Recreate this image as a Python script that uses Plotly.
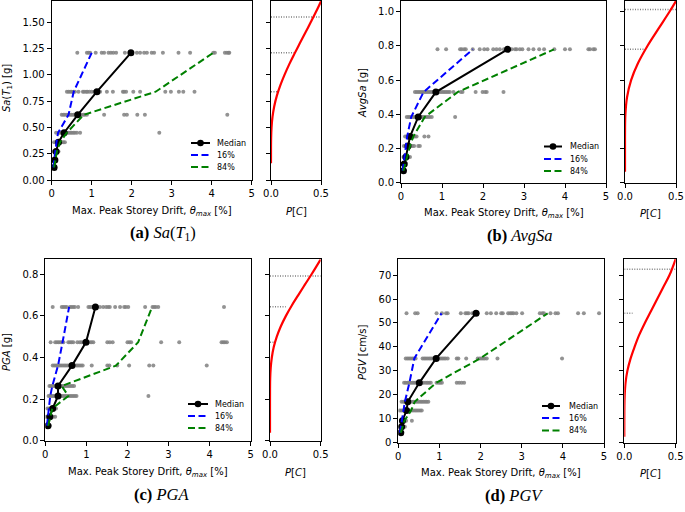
import plotly.graph_objects as go

W, H = 685, 512

# ---- (a) Sa(T1) ----
SA_LEVELS = [0.12, 0.19, 0.27, 0.36, 0.45, 0.62, 0.84, 1.21]
SA_MEDIAN = [0.06, 0.08, 0.11, 0.17, 0.31, 0.65, 1.13, 1.98]
SA_P16 = [0.04, 0.06, 0.09, 0.12, 0.16, 0.42, 0.55, 1.0]
SA_P84 = [0.06, 0.09, 0.13, 0.21, 0.38, 0.8, 2.6, 4.04]
SA_CLOUD = [
    [0.02, 0.04, 0.07],
    [0.03, 0.05, 0.08, 0.1],
    [0.04, 0.07, 0.09, 0.13, 0.17],
    [0.06, 0.1, 0.13, 0.15, 0.18, 0.21, 0.25, 0.29, 0.33],
    [0.11, 0.17, 0.21, 0.25, 0.29, 0.33, 0.38, 0.42, 0.46, 0.5, 0.54, 0.58, 0.63, 0.71, 2.69],
    [0.25, 0.29, 0.33, 0.38, 0.42, 0.46, 0.5, 0.54, 0.58, 0.63, 0.67, 0.71, 0.75, 0.79, 0.83,
     0.88, 1.31, 1.81, 1.88, 2.14, 2.33, 4.39],
    [0.38, 0.42, 0.46, 0.5, 0.54, 0.58, 0.67, 0.78, 0.81, 0.86, 0.89, 0.94, 1.0, 1.06, 1.11,
     1.17, 1.21, 1.38, 1.53, 1.78, 1.81, 1.86, 2.04, 2.21, 2.84, 2.98, 3.18, 3.29, 3.57],
    [0.64, 0.88, 0.92, 0.96, 1.1, 1.25, 1.31, 1.42, 1.48, 1.54, 1.61, 1.83, 2.13, 2.21, 2.31,
     2.38, 2.5, 2.56, 2.78, 3.17, 3.46, 4.04, 4.08, 4.33, 4.38, 4.42, 4.44],
]
SA_FRAG_IM = [0.16, 0.3, 0.4, 0.5, 0.6, 0.7, 0.8, 0.9, 1.0, 1.1, 1.2, 1.3, 1.4, 1.5, 1.6, 1.7]
SA_FRAG_P = [0.0, 0.0002, 0.0013, 0.0054, 0.015, 0.032, 0.058, 0.093, 0.135, 0.182, 0.234,
             0.288, 0.343, 0.397, 0.45, 0.5]
SA_COUNT_IM = [0.84, 1.21, 1.55]
SA_COUNT_P = [0.073, 0.24, 0.49]

# ---- (b) AvgSa ----
AVG_LEVELS = [0.07, 0.11, 0.15, 0.215, 0.27, 0.385, 0.53, 0.78]
AVG_MEDIAN = [0.06, 0.08, 0.12, 0.17, 0.22, 0.42, 0.85, 2.6]
AVG_P16 = [0.04, 0.06, 0.09, 0.12, 0.15, 0.25, 0.55, 1.75]
AVG_P84 = [0.06, 0.1, 0.14, 0.22, 0.3, 0.58, 1.38, 3.73]
AVG_CLOUD = [
    [0.02, 0.05, 0.07],
    [0.04, 0.07, 0.1],
    [0.06, 0.1, 0.14, 0.18, 0.22],
    [0.07, 0.11, 0.15, 0.2, 0.24, 0.28, 0.32, 0.42, 0.46],
    [0.1, 0.14, 0.18, 0.22, 0.26, 0.3, 0.34, 0.38, 0.57, 0.67],
    [0.14, 0.18, 0.22, 0.26, 0.3, 0.34, 0.38, 0.42, 0.46, 0.5, 0.54, 0.58, 0.62, 0.66, 0.7,
     0.75, 1.32],
    [0.34, 0.38, 0.42, 0.46, 0.5, 0.54, 0.58, 0.62, 0.66, 0.7, 0.74, 0.78, 0.82, 0.87, 0.91,
     0.95, 0.99, 1.03, 1.07, 1.11, 1.15, 1.19, 1.28, 1.46, 1.5, 1.82, 1.99, 2.05, 2.09, 2.5],
    [0.89, 1.1, 1.44, 1.48, 1.54, 1.58, 1.75, 1.92, 2.03, 2.11, 2.25, 2.33, 2.41, 2.51, 2.64,
     2.7, 2.78, 2.82, 2.9, 2.96, 3.11, 3.23, 3.37, 3.49, 3.74, 4.0, 4.12, 4.57, 4.61, 4.69, 4.73],
]
AVG_FRAG_IM = [0.064, 0.2, 0.3, 0.4, 0.5, 0.6, 0.7, 0.8, 0.9, 1.0, 1.063]
AVG_FRAG_P = [0.0, 0.0, 0.0003, 0.0038, 0.02, 0.06, 0.128, 0.22, 0.327, 0.436, 0.5]
AVG_COUNT_IM = [0.78, 1.014]
AVG_COUNT_P = [0.196, 0.5]

# ---- (c) PGA ----
PGA_LEVELS = [0.072, 0.115, 0.155, 0.215, 0.263, 0.361, 0.473, 0.643]
PGA_MEDIAN = [0.065, 0.11, 0.18, 0.31, 0.31, 0.65, 0.99, 1.22]
PGA_P16 = [0.04, 0.06, 0.08, 0.12, 0.17, 0.31, 0.42, 0.58]
PGA_P84 = [0.07, 0.12, 0.17, 0.56, 0.4, 1.72, 2.26, 2.6]
PGA_CLOUD = [
    [0.03, 0.07, 0.11],
    [0.03, 0.07, 0.11, 0.15, 0.19, 0.24],
    [0.05, 0.09, 0.13, 0.17, 0.21, 0.26],
    [0.08, 0.12, 0.16, 0.2, 0.24, 0.28, 0.32, 0.36, 0.4, 0.44, 0.48, 0.52, 0.56, 0.6, 0.64,
     0.68, 0.72, 0.76, 2.51],
    [0.1, 0.14, 0.18, 0.22, 0.26, 0.3, 0.34, 0.38, 0.42, 0.46, 0.5, 0.54, 0.58, 0.62, 0.66, 0.7],
    [0.18, 0.22, 0.26, 0.3, 0.34, 0.38, 0.42, 0.46, 0.5, 0.54, 0.58, 0.62, 0.66, 0.7, 0.75,
     0.79, 0.83, 0.87, 0.91, 1.13, 1.51, 1.56, 1.75, 2.04, 2.53, 2.63, 3.93],
    [0.13, 0.24, 0.28, 0.32, 0.36, 0.4, 0.44, 0.56, 0.6, 0.64, 0.68, 0.78, 0.84, 0.88, 0.93,
     1.02, 1.09, 1.13, 1.17, 1.51, 1.57, 1.64, 2.0, 2.05, 2.09, 2.82, 3.26, 4.29, 4.33, 4.37, 4.42],
    [0.18, 0.4, 0.44, 0.48, 0.52, 0.6, 0.64, 0.68, 0.72, 0.8, 1.05, 1.09, 1.13, 1.17, 1.25,
     1.33, 1.41, 1.48, 1.53, 1.57, 1.7, 1.82, 1.92, 1.96, 2.02, 2.43, 2.61, 2.65, 2.69, 2.75, 4.35],
]
PGA_FRAG_IM = [0.038, 0.15, 0.25, 0.3, 0.35, 0.4, 0.45, 0.5, 0.55, 0.6, 0.65, 0.7, 0.75, 0.8, 0.872]
PGA_FRAG_P = [0.0, 0.0, 0.0004, 0.002, 0.007, 0.018, 0.037, 0.067, 0.107, 0.157, 0.215, 0.279,
              0.344, 0.41, 0.5]
PGA_COUNT_IM = [0.473, 0.644, 0.792]
PGA_COUNT_P = [0.05, 0.155, 0.5]

# ---- (d) PGV ----
PGV_LEVELS = [4.2, 6.7, 9.2, 13.4, 17.1, 25.0, 35.2, 54.0]
PGV_MEDIAN = [0.06, 0.08, 0.1, 0.2, 0.23, 0.51, 0.92, 1.89]
PGV_P16 = [0.04, 0.06, 0.08, 0.12, 0.16, 0.27, 0.39, 1.05]
PGV_P84 = [0.06, 0.1, 0.15, 0.31, 0.4, 0.92, 1.99, 3.63]
PGV_CLOUD = [
    [0.02, 0.06, 0.09],
    [0.04, 0.08, 0.12, 0.16],
    [0.07, 0.11, 0.15, 0.19, 0.33],
    [0.04, 0.08, 0.12, 0.16, 0.2, 0.24, 0.28, 0.33, 0.37, 0.41, 0.45, 0.49, 0.53, 0.57],
    [0.08, 0.12, 0.16, 0.2, 0.24, 0.28, 0.33, 0.37, 0.41, 0.45, 0.49, 0.53, 0.57, 0.61, 0.65,
     0.69, 0.73],
    [0.14, 0.18, 0.22, 0.26, 0.3, 0.34, 0.38, 0.42, 0.46, 0.5, 0.54, 0.58, 0.62, 0.67, 0.71,
     0.75, 0.79, 0.93, 0.98, 1.02, 1.06, 1.42, 1.48, 1.54, 1.6],
    [0.18, 0.22, 0.26, 0.3, 0.34, 0.38, 0.42, 0.59, 0.63, 0.67, 0.71, 0.75, 0.79, 0.83, 0.87,
     0.91, 0.95, 0.99, 1.03, 1.07, 1.11, 1.15, 1.2, 1.42, 1.46, 1.65, 1.93, 1.98, 2.02, 2.06,
     2.1, 2.15, 2.41, 3.98],
    [0.2, 0.41, 0.47, 0.93, 1.06, 1.16, 1.2, 1.52, 1.63, 1.67, 1.71, 1.8, 1.93, 2.15, 2.25,
     2.38, 2.5, 2.54, 2.67, 2.72, 2.76, 2.8, 2.87, 3.01, 3.44, 3.5, 3.54, 3.7, 3.82, 3.88,
     4.37, 4.51, 4.88],
]
PGV_FRAG_IM = [2.5, 15, 20, 25, 30, 35, 40, 45, 50, 55, 60, 65, 70, 76.7]
PGV_FRAG_P = [0.0, 0.001, 0.004, 0.012, 0.03, 0.06, 0.1, 0.145, 0.2, 0.26, 0.32, 0.38, 0.44, 0.5]
PGV_COUNT_IM = [54.0, 72.4]
PGV_COUNT_P = [0.08, 0.5]

LEGEND_LABELS = ["Median", "16%", "84%"]

SANS = "DejaVu Sans"
SERIF = "Liberation Serif"
DRIFT_TITLE = "Max. Peak Storey Drift, <i>θ</i><sub><i>max</i></sub> [%]"
DASH = "7px,3.5px"
LINE_STYLES = [("black", "solid"), ("#0000ff", DASH), ("#008000", DASH)]

# positions below are page pixels (body margin is removed in the page)
panels = [
    dict(levels=SA_LEVELS, med=SA_MEDIAN, p16=SA_P16, p84=SA_P84, cloud=SA_CLOUD,
         fim=SA_FRAG_IM, fp=SA_FRAG_P, cim=SA_COUNT_IM, cp=SA_COUNT_P,
         ymax=1.703, yticks=[0, 0.25, 0.5, 0.75, 1.0, 1.25, 1.5], yfmt=".2f",
         main=(51.7, 251.7), side=(271, 321), top=1, bottom=180,
         ytitle="<i>Sa</i>(<i>T</i><sub>1</sub>) [g]", ytx=7, yty=88,
         leg_rows=(143, 155, 167), leg_x=(191, 210, 215),
         cap="<b>(a)</b> <i>Sa</i>(<i>T</i><sub>1</sub>)", capx=163, xty=211, capy=233),
    dict(levels=AVG_LEVELS, med=AVG_MEDIAN, p16=AVG_P16, p84=AVG_P84, cloud=AVG_CLOUD,
         fim=AVG_FRAG_IM, fp=AVG_FRAG_P, cim=AVG_COUNT_IM, cp=AVG_COUNT_P,
         ymax=1.063, yticks=[0, 0.2, 0.4, 0.6, 0.8, 1.0], yfmt=".1f",
         main=(401, 606), side=(625, 676), top=1, bottom=182.7,
         ytitle="<i>AvgSa</i> [g]", ytx=362, yty=93,
         leg_rows=(146.5, 159, 171), leg_x=(544, 562, 568),
         cap="<b>(b)</b> <i>AvgSa</i>", capx=520, xty=213, capy=235),
    dict(levels=PGA_LEVELS, med=PGA_MEDIAN, p16=PGA_P16, p84=PGA_P84, cloud=PGA_CLOUD,
         fim=PGA_FRAG_IM, fp=PGA_FRAG_P, cim=PGA_COUNT_IM, cp=PGA_COUNT_P,
         ymax=0.872, yticks=[0, 0.2, 0.4, 0.6, 0.8], yfmt=".1f",
         main=(45.3, 250.7), side=(270, 320.7), top=259.3, bottom=440.7,
         ytitle="<i>PGA</i> [g]", ytx=6, yty=352,
         leg_rows=(404, 416, 428), leg_x=(188, 208, 213),
         cap="<b>(c)</b> <i>PGA</i>", capx=161, xty=472, capy=494),
    dict(levels=PGV_LEVELS, med=PGV_MEDIAN, p16=PGV_P16, p84=PGV_P84, cloud=PGV_CLOUD,
         fim=PGV_FRAG_IM, fp=PGV_FRAG_P, cim=PGV_COUNT_IM, cp=PGV_COUNT_P,
         ymax=76.7, yticks=[0, 10, 20, 30, 40, 50, 60, 70], yfmt="d",
         main=(398.3, 604), side=(624.3, 675.7), top=259, bottom=442.7,
         ytitle="<i>PGV</i> [cm/s]", ytx=362, yty=352,
         leg_rows=(406, 418, 430.5), leg_x=(542, 560, 566.5),
         cap="<b>(d)</b> <i>PGV</i>", capx=514, xty=473, capy=495),
]


def fx(p):
    return p / W


def fy(p):
    return 1 - p / H


axis_style = dict(showline=True, linecolor="black", linewidth=1, mirror=True,
                  ticks="outside", ticklen=4, tickwidth=1, tickcolor="black",
                  showgrid=False, zeroline=False,
                  tickfont=dict(family=SANS, size=10, color="black"))

fig = go.Figure()
layout = {}
annotations = []
shapes = []

for i, p in enumerate(panels):
    mx = 2 * i + 1
    sx = 2 * i + 2
    mname = "" if mx == 1 else str(mx)

    # gray cloud of analyses
    cx, cy = [], []
    for lev, row in zip(p["levels"], p["cloud"]):
        cx += row
        cy += [lev] * len(row)
    fig.add_trace(go.Scatter(x=cx, y=cy, mode="markers", xaxis=f"x{mname}", yaxis=f"y{mname}",
                             marker=dict(size=4, color="rgba(128,128,128,0.85)"),
                             showlegend=False, hoverinfo="skip"))
    fig.add_trace(go.Scatter(x=p["med"], y=p["levels"], mode="lines+markers",
                             xaxis=f"x{mname}", yaxis=f"y{mname}", showlegend=False,
                             line=dict(color="black", width=2),
                             marker=dict(size=7, color="black")))
    for xs, (col, dsh) in zip([p["p16"], p["p84"]], LINE_STYLES[1:]):
        fig.add_trace(go.Scatter(x=xs, y=p["levels"], mode="lines",
                                 xaxis=f"x{mname}", yaxis=f"y{mname}", showlegend=False,
                                 line=dict(color=col, width=2, dash=dsh)))

    # side panel: collapse fractions + fragility curve
    for im, pc in zip(p["cim"], p["cp"]):
        fig.add_trace(go.Scatter(x=[0, pc], y=[im, im], mode="lines",
                                 xaxis=f"x{sx}", yaxis=f"y{sx}", showlegend=False,
                                 line=dict(color="#808080", width=1.5, dash="1px,1.5px")))
    fig.add_trace(go.Scatter(x=p["fp"], y=p["fim"], mode="lines", line_shape="spline",
                             xaxis=f"x{sx}", yaxis=f"y{sx}", showlegend=False,
                             line=dict(color="#ff0000", width=2.2)))

    ydom = [fy(p["bottom"]), fy(p["top"])]
    layout[f"xaxis{mname}"] = dict(axis_style, domain=[fx(p["main"][0]), fx(p["main"][1])],
                                   range=[0, 5], tickvals=[0, 1, 2, 3, 4, 5],
                                   anchor=f"y{mname}")
    layout[f"yaxis{mname}"] = dict(axis_style, domain=ydom, range=[0, p["ymax"]],
                                   tickvals=p["yticks"], tickformat=p["yfmt"],
                                   anchor=f"x{mname}")
    layout[f"xaxis{sx}"] = dict(axis_style, domain=[fx(p["side"][0]), fx(p["side"][1])],
                                range=[0, 0.5], tickvals=[0, 0.5], tickformat=".1f",
                                anchor=f"y{sx}")
    layout[f"yaxis{sx}"] = dict(axis_style, domain=ydom, range=[0, p["ymax"]],
                                tickvals=p["yticks"], showticklabels=False,
                                anchor=f"x{sx}")

    # hand-drawn legend (matplotlib-style compact rows)
    lx0, lx1, tx = p["leg_x"]
    for row, label, (col, dsh) in zip(p["leg_rows"], LEGEND_LABELS, LINE_STYLES):
        shapes.append(dict(type="line", xref="paper", yref="paper",
                           x0=fx(lx0), x1=fx(lx1), y0=fy(row), y1=fy(row),
                           line=dict(color=col, width=2, dash=dsh)))
        annotations.append(dict(text=label, x=fx(tx), y=fy(row), xanchor="left",
                                font=dict(family=SANS, size=8, color="black")))
    mid = (lx0 + lx1) / 2
    r0 = p["leg_rows"][0]
    shapes.append(dict(type="circle", xref="paper", yref="paper",
                       x0=fx(mid - 3.3), x1=fx(mid + 3.3), y0=fy(r0 + 3.3), y1=fy(r0 - 3.3),
                       fillcolor="black", line=dict(color="black", width=0)))

    annotations += [
        dict(text=p["ytitle"], x=fx(p["ytx"]), y=fy(p["yty"]), textangle=-90,
             font=dict(family=SANS, size=10, color="black")),
        dict(text=DRIFT_TITLE, x=fx((p["main"][0] + p["main"][1]) / 2), y=fy(p["xty"]),
             font=dict(family=SANS, size=10, color="black")),
        dict(text="<i>P</i>[<i>C</i>]", x=fx((p["side"][0] + p["side"][1]) / 2), y=fy(p["xty"]),
             font=dict(family=SANS, size=10, color="black")),
        dict(text=p["cap"], x=fx(p["capx"]), y=fy(p["capy"]),
             font=dict(family=SERIF, size=16.5, color="black")),
    ]

for a in annotations:
    a.setdefault("xanchor", "center")
    a.update(xref="paper", yref="paper", showarrow=False, yanchor="middle")

fig.update_layout(width=W, height=H,
                  margin=dict(l=0, r=0, t=0, b=0, pad=0, autoexpand=False),
                  paper_bgcolor="white", plot_bgcolor="white", showlegend=False,
                  annotations=annotations, shapes=shapes, **layout)

# drop the default 8px body margin so the figure fills the window exactly
fig.write_html("out.html", config={"displayModeBar": False},
               post_script="document.body.style.margin = '0';")
